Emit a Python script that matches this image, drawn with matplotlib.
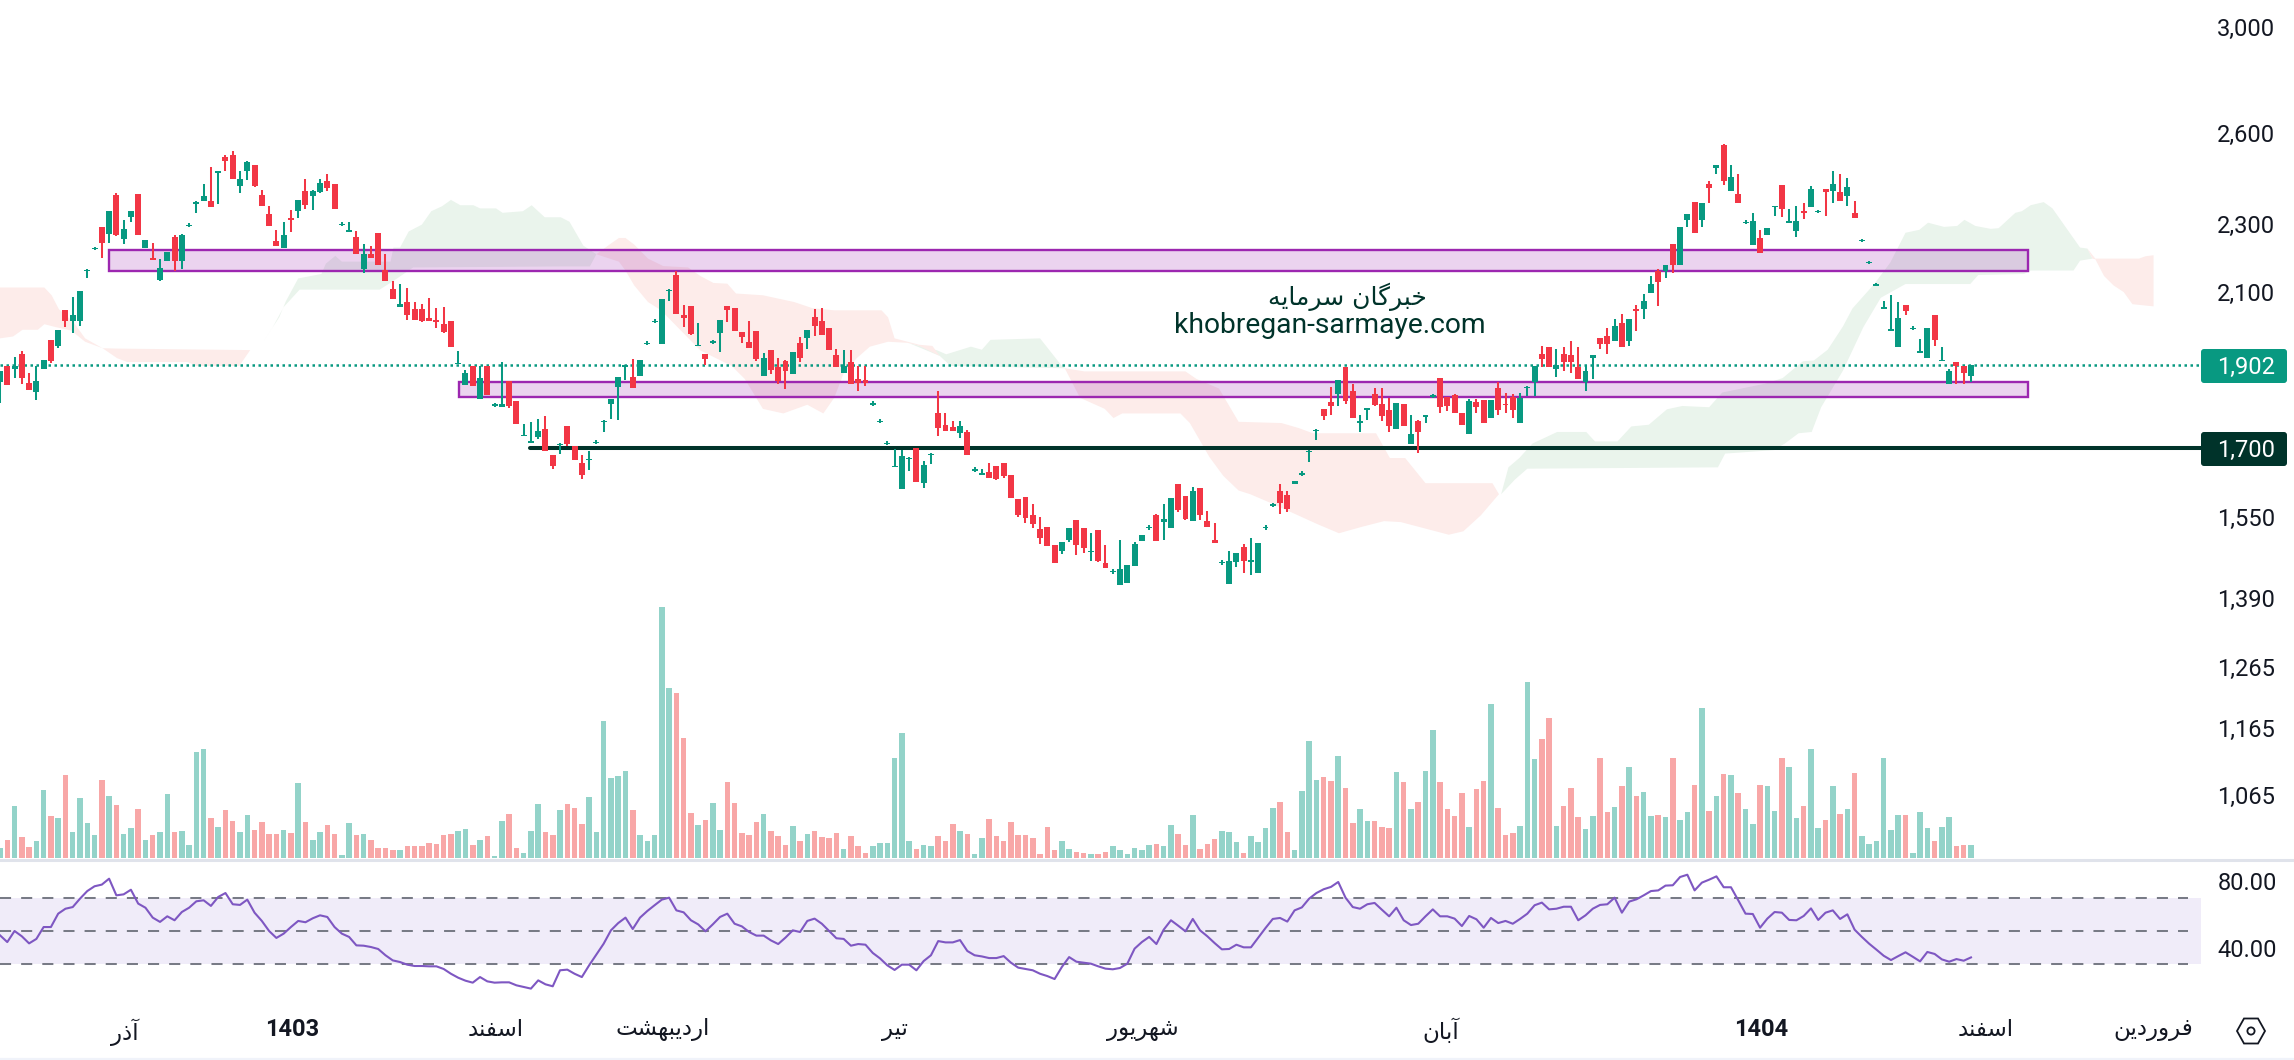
import numpy as np
import matplotlib
matplotlib.use("Agg")
import matplotlib.pyplot as plt
from matplotlib.patches import FancyBboxPatch, Rectangle, Circle, Polygon
from matplotlib.ticker import NullLocator

# daily candles
opens = [1859,1899,1892,1932,1856,1834,1892,1968,1952,2049,2018,2018,2161,2226,2292,2271,2394,2256,2322,2397,
 2227,2199,2134,2190,2261,2190,2296,2367,2372,2375,2469,2518,2525,2423,2470,2491,2394,2333,2250,2227,
 2320,2343,2407,2388,2401,2440,2427,2299,2279,2262,2166,2211,2274,2163,2109,2057,2071,2052,2052,2027,
 2022,2011,2019,1906,1851,1899,1818,1899,1802,1797,1861,1811,1729,1714,1727,1746,1684,1709,1753,1706,
 1667,1673,1713,1763,1806,1846,1900,1871,1874,1958,2018,1956,2103,2147,2034,2060,1953,1930,1962,1986,
 2059,2054,1989,1962,1991,1874,1940,1897,1912,1880,1959,1973,2031,2020,2000,1928,1882,1910,1867,1864,
 1805,1762,1711,1659,1609,1677,1701,1623,1686,1782,1755,1750,1736,1738,1651,1642,1647,1660,1667,1640,
 1588,1592,1554,1525,1529,1492,1480,1502,1543,1527,1479,1523,1457,1439,1413,1417,1451,1500,1527,1554,
 1539,1527,1620,1594,1541,1612,1541,1502,1457,1415,1459,1488,1458,1436,1527,1574,1605,1597,1620,1642,
 1693,1741,1793,1810,1830,1896,1838,1758,1792,1830,1805,1791,1746,1805,1709,1763,1776,1824,1870,1823,
 1828,1782,1734,1810,1815,1770,1843,1805,1823,1758,1845,1858,1932,1948,1893,1932,1927,1896,1858,1921,
 1974,1977,1966,2012,1966,2053,2053,2097,2161,2161,2241,2178,2312,2371,2315,2430,2480,2559,2407,2397,
 2306,2237,2259,2268,2356,2426,2308,2278,2342,2355,2340,2411,2407,2404,2388,2334,2250,2184,2120,2055,
 1995,1948,2064,1998,1936,1921,2036,1914,1855,1911,1901,1874]
closes = [1887,1852,1899,1870,1839,1861,1915,1912,1995,2018,2035,2102,2163,2228,2244,2341,2268,2286,2341,2268,
 2253,2193,2169,2216,2190,2268,2298,2369,2388,2353,2471,2504,2444,2444,2501,2423,2359,2296,2235,2268,
 2314,2378,2362,2407,2433,2417,2349,2301,2281,2211,2211,2197,2178,2132,2080,2066,2035,2021,2018,2018,
 2016,1989,1949,1908,1881,1848,1869,1826,1804,1806,1799,1756,1731,1716,1741,1693,1661,1711,1711,1674,
 1641,1676,1715,1765,1818,1871,1902,1844,1915,1960,2020,2080,2105,2037,2026,1984,1955,1917,1964,2021,
 2048,1991,1975,1946,1917,1920,1890,1862,1887,1935,1920,1994,2006,1980,1940,1897,1900,1855,1857,1857,
 1807,1764,1713,1661,1683,1679,1625,1663,1688,1747,1740,1740,1752,1685,1653,1644,1634,1631,1638,1590,
 1554,1548,1535,1507,1490,1457,1498,1527,1492,1486,1481,1461,1447,1441,1445,1453,1494,1513,1529,1500,
 1545,1590,1565,1546,1605,1554,1529,1496,1459,1461,1476,1461,1463,1496,1529,1576,1580,1567,1627,1644,
 1695,1743,1776,1800,1863,1813,1770,1765,1794,1803,1776,1753,1808,1753,1734,1739,1778,1826,1797,1799,
 1784,1755,1813,1797,1760,1815,1791,1803,1791,1820,1847,1901,1919,1896,1903,1911,1911,1866,1888,1929,
 1956,1956,2004,1950,2025,2045,2075,2121,2129,2178,2178,2293,2331,2272,2368,2417,2493,2439,2450,2368,
 2308,2309,2214,2290,2358,2349,2310,2309,2336,2411,2342,2401,2430,2375,2420,2321,2252,2186,2122,2057,
 1997,2028,2045,2000,1938,1999,1968,1916,1888,1901,1881,1902]
highs = [1887,1899,1922,1938,1881,1899,1915,1968,1995,2049,2085,2102,2165,2232,2292,2341,2400,2314,2341,2397,
 2253,2244,2196,2216,2268,2271,2303,2372,2430,2484,2473,2525,2539,2473,2505,2491,2410,2359,2283,2308,
 2345,2378,2446,2410,2446,2460,2427,2306,2308,2280,2241,2235,2274,2211,2132,2122,2111,2071,2066,2083,
 2055,2057,2019,1938,1889,1899,1899,1899,1808,1910,1861,1811,1757,1762,1769,1777,1684,1713,1753,1706,
 1684,1693,1719,1767,1818,1871,1903,1917,1915,1964,2024,2080,2107,2160,2062,2060,2014,1930,1968,2021,
 2059,2054,1989,2018,1991,1933,1940,1920,1915,1935,1975,1994,2051,2054,2000,1943,1940,1940,1900,1900,
 1811,1768,1717,1699,1696,1680,1701,1672,1689,1836,1782,1764,1764,1743,1657,1654,1667,1660,1667,1640,
 1588,1592,1577,1550,1529,1492,1498,1527,1543,1527,1517,1523,1492,1445,1502,1453,1498,1513,1533,1556,
 1577,1590,1620,1594,1614,1612,1563,1537,1463,1481,1476,1494,1507,1496,1533,1580,1620,1605,1627,1648,
 1696,1744,1793,1846,1863,1896,1853,1779,1795,1843,1843,1820,1808,1805,1779,1767,1779,1830,1870,1823,
 1830,1782,1816,1818,1815,1815,1860,1833,1830,1833,1848,1901,1953,1948,1943,1948,1964,1948,1903,1929,
 1974,1999,2025,2039,2025,2062,2095,2144,2164,2178,2241,2293,2331,2371,2368,2437,2493,2562,2493,2463,
 2312,2334,2281,2290,2359,2426,2349,2358,2368,2423,2346,2411,2470,2460,2447,2375,2256,2190,2126,2075,
 2090,2070,2064,2004,1971,1999,2036,1950,1893,1911,1901,1902]
lows = [1807,1852,1870,1854,1839,1814,1892,1907,1947,2002,1986,2005,2138,2222,2198,2244,2265,2241,2308,2268,
 2227,2193,2131,2190,2160,2166,2291,2334,2372,2353,2365,2473,2444,2398,2441,2420,2359,2296,2235,2227,
 2277,2320,2349,2345,2398,2407,2349,2295,2277,2211,2154,2197,2178,2132,2080,2057,2021,2021,2015,2018,
 2000,1987,1949,1904,1851,1848,1816,1826,1798,1797,1794,1756,1729,1712,1722,1693,1654,1688,1706,1674,
 1632,1652,1709,1737,1769,1766,1864,1844,1874,1954,2014,1956,2074,2037,2002,1981,1953,1902,1958,1935,
 2015,1991,1959,1946,1912,1874,1880,1855,1842,1880,1910,1943,1978,1980,1940,1897,1882,1855,1838,1850,
 1801,1758,1707,1658,1609,1649,1625,1612,1665,1729,1740,1740,1724,1685,1647,1640,1634,1629,1634,1590,
 1550,1537,1527,1494,1490,1457,1474,1498,1472,1476,1461,1459,1447,1435,1413,1417,1451,1500,1523,1500,
 1502,1527,1561,1543,1541,1543,1529,1496,1453,1415,1449,1436,1432,1436,1523,1570,1556,1561,1620,1638,
 1670,1719,1766,1779,1799,1806,1770,1737,1767,1799,1765,1739,1746,1753,1709,1690,1758,1820,1782,1789,
 1784,1755,1734,1784,1760,1770,1779,1784,1772,1758,1824,1824,1896,1896,1872,1888,1883,1866,1838,1868,
 1945,1932,1966,1950,1953,1993,2025,2097,2059,2138,2155,2178,2293,2272,2293,2368,2463,2426,2407,2368,
 2302,2237,2214,2268,2327,2324,2306,2262,2318,2355,2336,2327,2368,2375,2358,2321,2246,2180,2116,2053,
 1993,1948,2036,1994,1934,1921,1953,1912,1855,1853,1853,1860]

# volume, arbitrary units
volumes = [30,54,156,63,33,51,204,126,120,249,78,180,105,69,234,186,159,72,90,147,54,69,78,192,78,81,39,318,327,120,
 93,144,111,78,129,84,108,72,72,84,75,225,108,54,78,99,72,9,105,69,72,54,30,30,24,24,36,36,36,45,
 42,69,72,81,87,39,54,66,6,111,132,30,15,81,162,78,69,144,162,150,102,183,78,411,240,246,261,144,69,51,
 69,753,510,495,360,135,99,114,165,84,228,165,75,69,108,132,81,66,39,96,
 51,72,81,63,60,75,27,66,36,15,36,45,45,300,375,51,27,39,36,66,51,102,81,72,12,60,117,66,51,108,
 69,69,60,12,93,24,51,27,18,15,12,12,18,36,24,12,30,24,39,42,36,99,72,39,129,27,42,57,81,78,
 48,15,66,48,90,150,168,78,24,201,351,234,243,231,306,210,105,147,111,111,93,90,258,228,147,168,261,384,228,147,
 126,195,93,207,231,462,150,69,75,96,528,297,357,420,96,156,210,123,87,126,
 300,138,153,216,273,186,198,126,129,123,300,114,138,219,450,141,186,252,249,195,147,102,219,216,141,300,273,120,156,327,
 90,114,216,132,147,255,66,42,51,300,84,129,129,15,138,90,51,93,123,36,39,39]

rsi = [47.4,43.3,50,46.8,42.5,45.2,52.4,52.4,60.5,63.5,64.5,69.6,74.2,77.1,78.1,81.7,71.6,72.2,75,66.6,64.1,58.1,55.5,58.9,56.5,
 61.5,64.1,68,68.6,65.2,70.6,73,66.2,65.8,69,61.1,56.1,50,45.8,48.4,52.4,56.1,55.3,57.7,59.5,58.5,52.4,48.4,46.4,41.3,
 41.1,40.3,39.1,35.3,32.2,31.2,29.6,28.8,28.8,28.6,28.6,27,24.1,21.7,19.9,18.7,22.1,19.5,18.7,18.9,18.9,17.1,16.1,15.1,20.1,
 17.7,16.5,26.2,26.6,24.1,22.1,29.2,35.7,42.3,50.4,54.8,58.1,51.2,58.1,62.1,65.6,69,70.2,62.5,61.3,56.5,54,49.8,54,58.5,
 60.5,54.4,52.8,49.4,47.2,47.2,44.3,42.1,46,50.4,49.4,
 56.1,57.5,54.4,50,45.6,45.2,41.1,42.1,41.7,36.7,33.4,29.2,26.4,29.6,29.6,26.2,31.8,35.3,43.9,43.1,43.1,44.5,37.9,35.3,34.6,
 33.6,33.6,34.8,30.8,27.8,27,26.2,24.1,22.7,20.9,28.2,34.2,31.4,30.8,30.2,28.6,27.2,26.8,27.6,30.2,39.3,43.3,46.4,42.1,50.8,
 56.5,53.2,49.8,57.3,50.4,46.8,42.7,38.9,39.1,41.7,40.1,40.1,46,51.8,57.3,57.9,55.7,62.5,64.3,69.6,73,75.3,76.7,79.7,70.2,
 64.5,63.5,66.2,67,62.9,58.9,64.1,56.5,53.6,54.4,58.9,63.1,58.9,58.9,57.5,53,59.1,57.1,52,57.9,54.8,56.1,54.4,57.3,60.5,
 65.6,67.2,63.1,63.5,64.7,64.7,56.5,59.5,63.5,65.8,
 66.2,70.2,61.1,67.8,69.2,71.6,74.2,74.6,77.5,77.7,82.7,84.1,74.6,79.3,81.1,83.1,76.5,76.5,68.6,60.5,60.3,52,57.5,61.5,61.1,
 56.7,56.5,59.1,63.7,56.7,61.1,62.5,57.3,60.1,50.8,46.4,42.3,38.7,35,32.4,34.8,37.1,34.4,31.6,37.3,36.1,32.8,31.4,33,32,34]

# ichimoku cloud outlines (candle index, price), each polygon: upper edge then lower edge
cloud_red = [
 ([0,6.1,7.1,8.1,10.1,11.7,14.1], [2112,2112,2090,2051,2016,1972,1946],
  [0,1.8,3.1,5.2,6.1,7.7,9.8,11.7,14.1], [1972,1977,1995,1995,2010,2002,1993,1963,1946]),
 ([14.1,16,34.4], [1946,1945,1941],
  [14.1,16.1,17.5,25.8,27,32.9,34.4], [1946,1920,1910,1910,1900,1900,1941]),
 ([82,83.8,85.1,86,87.2,89.1,91.2,94.6,96.3,98.1,100,101.2,104.9,109.2,111.7,114.7,121.2,122.1,123,126.4,128.2,129.2],
  [2209,2238,2258,2258,2238,2196,2174,2170,2145,2125,2123,2095,2090,2071,2054,2048,2048,2029,1972,1955,1952,1926],
  [82,85.1,86,87.2,89.1,90.9,96.3,100.6,102.4,104.9,107.7,111,113.2,114.7,116,117.8,119.6,122.1,124.9,126.4,129.2],
  [2209,2187,2161,2118,2071,2048,1940,1900,1867,1793,1782,1803,1782,1820,1881,1920,1950,1963,1960,1952,1926]),
 ([146.4,149.1,163,164.5,167.6,170.3,176.2,178.6,180.5,189.2,191.1,193.2,196,205.2,206.1],
  [1894,1886,1886,1867,1843,1762,1759,1747,1735,1735,1678,1678,1622,1622,1598],
  [146.4,148.5,151.9,153.1,154.3,162.3,163.6,166.3,168.2,170.3,171.9,174.9,181.1,184.1,187.2,190.3,192.6,199.2,201.2,203.6,206.1],
  [1894,1820,1793,1771,1782,1782,1759,1680,1638,1606,1598,1578,1535,1516,1529,1541,1539,1513,1520,1553,1598]),
 ([287,288.1,294.1,295,296.1], [2226,2196,2196,2203,2206],
  [287,287.7,288.1,289.3,290.6,292,293.2,296.1], [2226,2196,2194,2145,2118,2099,2065,2059]),
]
cloud_green = [
 ([34.4,36.2,38.4,39.3,41,44.2,44.8,46.1,47,53.7,54.1,55,56.2,58,59.3,60.8,62,63.3,65.1,66,68.2,69.1,71.9,73.1,74.9,77.1,78.3,80.2,82],
  [1941,1963,2029,2073,2138,2151,2181,2204,2187,2187,2229,2229,2278,2299,2341,2357,2377,2360,2360,2350,2350,2336,2341,2360,2322,2322,2308,2235,2209],
  [34.4,36.2,37.5,39,41.2,52.2,54.1,55.3,56.8,77.1,81.1,82],
  [1941,1963,2002,2057,2106,2106,2131,2148,2170,2173,2173,2209]),
 ([124.9,128.9,130.1,133.5,135,136.2,143,146,146.7], [1960,1940,1930,1950,1942,1968,1972,1900,1891],
  [124.9,129.2,130.7,146.4,146.7], [1960,1926,1900,1894,1891]),
 ([206.4,207.4,208.9,210.7,214.1,218.1,219.3,222.4,224.3,226.7,229.2,231.3,235,236.8,242.7,245.1,247.9,249.4,251.3,253.4,254.7,
   257.7,259.9,262,263.9,265.1,267.3,269.1,270.1,271.6,273.7,274.8,277.1,278,279.2,281,282.2,286,287,287.7],
  [1598,1657,1678,1711,1738,1738,1716,1716,1751,1755,1792,1800,1797,1833,1855,1869,1912,1914,1942,2004,2053,
   2122,2184,2274,2283,2305,2292,2295,2314,2295,2286,2288,2336,2341,2360,2370,2350,2229,2226,2196],
  [206.4,208.3,210,236.2,237.2,243.9,245.4,247.3,249.1,250.4,253.4,256.2,258.6,262,270.9,272,278.3,279.2,285.1,286,287.7],
  [1598,1630,1654,1657,1688,1696,1711,1735,1738,1797,1888,2002,2083,2122,2122,2148,2151,2161,2161,2190,2196]),
]

# support / resistance zones: start, end, low, high
zones = [(15, 278.9, 2161, 2221), (63.1, 278.9, 1823, 1859)]
level_start = 72.9
level_price = 1700
last_price = 1902
line_end = 302.6

price_ticks = [3000, 2600, 2300, 2100, 1902, 1700, 1550, 1390, 1265, 1165, 1065]
rsi_ticks = [80, 40]
rsi_levels = [70, 50, 30]
month_pos = [17.2, 40.2, 68.1, 91.1, 123.1, 157.1, 198.1, 242.2, 273, 296]
month_labels = ["آذر", "1403", "اسفند", "اردیبهشت", "تیر", "شهریور", "آبان", "1404", "اسفند", "فروردین"]
site_fa = "خبرگان سرمایه"
site_en = "khobregan-sarmaye.com"

# matplotlib has no arabic shaping, so pick the joined glyphs by hand
FORMS = {
    "آ": (0xFE81, 0xFE82), "ا": (0xFE8D, 0xFE8E), "د": (0xFEA9, 0xFEAA), "ذ": (0xFEAB, 0xFEAC),
    "ر": (0xFEAD, 0xFEAE), "و": (0xFEED, 0xFEEE),
    "ب": (0xFE8F, 0xFE90, 0xFE91, 0xFE92), "ت": (0xFE95, 0xFE96, 0xFE97, 0xFE98),
    "خ": (0xFEA5, 0xFEA6, 0xFEA7, 0xFEA8), "س": (0xFEB1, 0xFEB2, 0xFEB3, 0xFEB4),
    "ش": (0xFEB5, 0xFEB6, 0xFEB7, 0xFEB8), "ف": (0xFED1, 0xFED2, 0xFED3, 0xFED4),
    "م": (0xFEE1, 0xFEE2, 0xFEE3, 0xFEE4), "ن": (0xFEE5, 0xFEE6, 0xFEE7, 0xFEE8),
    "ه": (0xFEE9, 0xFEEA, 0xFEEB, 0xFEEC), "ی": (0xFBFC, 0xFBFD, 0xFBFE, 0xFBFF),
    "گ": (0xFB92, 0xFB93, 0xFB94, 0xFB95),
}

def shape(word):
    if word.isdigit():
        return word
    out = []
    for i, ch in enumerate(word):
        if ch not in FORMS:
            out.append(ch)
            continue
        f = FORMS[ch]
        prev = word[i - 1] if i > 0 else ""
        nxt = word[i + 1] if i + 1 < len(word) else ""
        joins_prev = prev in FORMS and len(FORMS[prev]) == 4
        joins_next = len(f) == 4 and nxt in FORMS
        if joins_prev and joins_next:
            out.append(chr(f[3]))
        elif joins_next:
            out.append(chr(f[2]))
        elif joins_prev:
            out.append(chr(f[1]))
        else:
            out.append(chr(f[0]))
    return "".join(reversed(out))

GREEN = "#089981"
RED = "#F23645"
DARK = "#00332A"
TEXT = "#131722"
W, H = 2294, 1060
STEP = 7.273

plt.rcParams["font.family"] = ["Roboto", "DejaVu Sans"]
fig = plt.figure(figsize=(W / 100, H / 100), dpi=100)

# pixel layer for tags, separators and the small icon
px = fig.add_axes([0, 0, 1, 1], zorder=0)
px.set_xlim(0, W)
px.set_ylim(H, 0)
px.axis("off")
px.plot([0, W], [860, 860], color="#E0E3EB", lw=2.2)
px.plot([0, W], [1059, 1059], color="#F0F3FA", lw=1.6)
for y0, y1, col in [(349, 383, GREEN), (432, 466, DARK)]:
    px.add_patch(FancyBboxPatch((2203, y0 + 2), 82, y1 - y0 - 4, boxstyle="round,pad=2,rounding_size=3",
                                fc=col, ec="none"))
cx, cy = 2251, 1031
px.add_patch(Polygon([(cx - 14, cy), (cx - 7, cy - 12.5), (cx + 7, cy - 12.5), (cx + 14, cy),
                      (cx + 7, cy + 12.5), (cx - 7, cy + 12.5)], closed=True, fc="none", ec=TEXT, lw=1.3))
px.add_patch(Circle((cx, cy), 3.6, fc="none", ec=TEXT, lw=1.3))

xlim = (0, W / STEP)
idx = np.arange(len(closes))
up = np.array(closes) >= np.array(opens)

# volume
ax_vol = fig.add_axes([0, 200 / H, 1, 860 / H], zorder=1)
ax_vol.patch.set_alpha(0)
ax_vol.bar(idx, volumes, width=0.76, color=["#93D3C9" if u else "#F8A7A7" for u in up])
ax_vol.set_xlim(xlim)
ax_vol.set_ylim(-6, 2574)
ax_vol.axis("off")

# price
ax = fig.add_axes([0, 200 / H, 1, 860 / H], zorder=2)
ax.patch.set_alpha(0)
ax.set_yscale("log")
for polys, col in [(cloud_green, "#EAF4EC"), (cloud_red, "#FDECEA")]:
    for ti, tp, bi, bp in polys:
        ax.fill(ti + bi[::-1], tp + bp[::-1], color=col, lw=0, zorder=1)
for x0, x1, lo, hi in zones:
    ax.add_patch(Rectangle((x0, lo), x1 - x0, hi - lo, fc=(156 / 255, 39 / 255, 176 / 255, 0.2),
                           ec="#9C27B0", lw=1.7, zorder=2))
ax.plot([0, line_end], [last_price, last_price], color=GREEN, lw=1.8, ls=(0, (1, 1.4)), zorder=2.5)
ax.plot([level_start, line_end], [level_price, level_price], color=DARK, lw=2.9, zorder=2.5, solid_capstyle="round")

colors = [GREEN if u else RED for u in up]
ax.vlines(idx, lows, highs, colors=colors, lw=1.45, zorder=3)
tops = np.maximum(opens, closes).astype(float)
bots = np.minimum(opens, closes).astype(float)
bots = np.minimum(bots, tops * 0.998)
ax.bar(idx, tops - bots, bottom=bots, width=0.82, color=colors, zorder=4)

ax.set_xlim(xlim)
ax.set_ylim(975.5, 3113)
ax.yaxis.tick_right()
ax.set_yticks(price_ticks, [f"{p:,}" for p in price_ticks], ha="right", fontsize=17)
ax.yaxis.set_minor_locator(NullLocator())
ax.tick_params(axis="y", length=0, pad=-13.7, colors=TEXT)
for lab, p in zip(ax.get_yticklabels(), price_ticks):
    if p in (last_price, level_price):
        lab.set_color("white")
ax.set_xticks([])
for s in ax.spines.values():
    s.set_visible(False)

ax.text(1347 / STEP, 2087, shape(site_fa), ha="center", va="center", fontsize=18, color=DARK,
        family="DejaVu Sans", zorder=5)
ax.text(1330 / STEP, 2007, site_en, ha="center", va="center", fontsize=20.3, color=DARK, zorder=5)

# rsi
ax_rsi = fig.add_axes([0, 60 / H, 1, 138 / H], zorder=2)
ax_rsi.patch.set_alpha(0)
ax_rsi.fill_between([0, line_end], rsi_levels[-1], rsi_levels[0], color="#F0ECF9", lw=0)
for lev in rsi_levels:
    ax_rsi.plot([0, line_end - 1.7], [lev, lev], color="#787B86", lw=1.45, ls=(0, (5.5, 5)))
ax_rsi.plot(np.arange(len(rsi)), rsi, color="#7E57C2", lw=1.5)
ax_rsi.set_xlim(xlim)
ax_rsi.set_ylim(8.2, 91.8)
ax_rsi.yaxis.tick_right()
ax_rsi.set_yticks(rsi_ticks, [f"{v:.2f}" for v in rsi_ticks], ha="right", fontsize=17)
ax_rsi.tick_params(axis="y", length=0, pad=-12.2, colors=TEXT)
ax_rsi.set_xticks(month_pos, [shape(m) for m in month_labels], fontsize=16.6, family="DejaVu Sans")
ax_rsi.tick_params(axis="x", length=0, pad=13, colors=TEXT)
for lab, m in zip(ax_rsi.get_xticklabels(), month_labels):
    if m.isdigit():
        lab.set_family("Roboto")
        lab.set_fontweight("bold")
        lab.set_fontsize(17)
for s in ax_rsi.spines.values():
    s.set_visible(False)

fig.savefig("out.png", dpi=100, facecolor="white")
